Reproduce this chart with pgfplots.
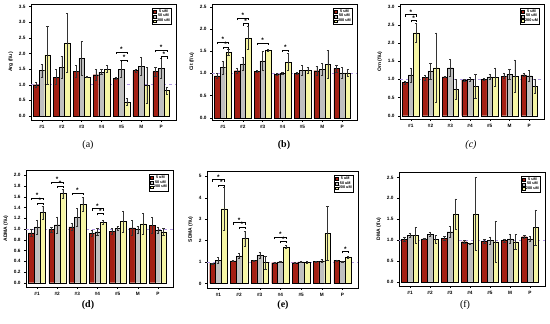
\documentclass[border=0pt]{standalone}
\usepackage{fontspec}
\setmainfont{Liberation Serif}
\setsansfont{Liberation Sans}
\usepackage{pgfplots}
\usepackage{pgfplotstable}
\pgfplotsset{compat=1.18}
\definecolor{cA}{RGB}{165,32,20}
\definecolor{cB}{RGB}{192,192,192}
\definecolor{cC}{RGB}{246,246,165}
\definecolor{refl}{RGB}{175,150,225}

% x a ea b eb c ec  (a = 5 uM, b = 50 uM, c = 200 uM)
\pgfplotstableread{
x a ea b eb c ec
0 1.00 0.08 1.45 0.21 1.95 0.92
1 1.24 0.24 1.56 0.36 2.34 0.95
2 1.42 0.19 1.84 0.54 1.25 0.02
3 1.32 0.18 1.40 0.08 1.50 0.11
4 1.21 0.03 1.50 0.27 0.45 0.11
5 1.45 0.05 1.59 0.28 0.98 0.58
6 1.42 0.14 1.52 0.32 0.81 0.12
}\tArg
\pgfplotstableread{
x a ea b eb c ec
0 0.94 0.06 1.13 0.15 1.47 0.07
1 1.06 0.05 1.21 0.15 1.80 0.25
2 1.05 0.02 1.28 0.21 1.52 0.02
3 0.98 0.02 1.00 0.02 1.26 0.19
4 1.00 0.02 1.07 0.11 1.07 0.06
5 1.06 0.10 1.09 0.13 1.20 0.31
6 1.11 0.08 1.01 0.12 1.01 0.08
}\tCit
\pgfplotstableread{
x a ea b eb c ec
0 0.92 0.04 1.12 0.20 2.28 0.25
1 1.05 0.07 1.23 0.22 1.32 0.96
2 1.07 0.02 1.32 0.23 0.73 0.27
3 0.98 0.03 1.00 0.05 0.81 0.33
4 1.00 0.03 1.07 0.06 1.06 0.26
5 1.09 0.07 1.14 0.14 1.09 0.45
6 1.12 0.04 1.10 0.14 0.81 0.19
}\tOrn
\pgfplotstableread{
x a ea b eb c ec
0 0.93 0.06 1.04 0.13 1.31 0.12
1 0.99 0.04 1.08 0.15 1.66 0.08
2 1.04 0.07 1.22 0.16 1.46 0.13
3 0.92 0.06 0.95 0.06 1.13 0.04
4 0.96 0.05 1.01 0.04 1.14 0.20
5 1.02 0.14 0.99 0.06 1.10 0.19
6 1.07 0.15 0.98 0.06 0.95 0.06
}\tADMA
\pgfplotstableread{
x a ea b eb c ec
0 0.94 0.03 1.09 0.13 3.49 1.01
1 1.06 0.02 1.29 0.11 2.10 0.34
2 1.08 0.02 1.32 0.12 0.99 0.30
3 0.97 0.02 1.02 0.03 1.71 0.06
4 0.97 0.02 1.02 0.03 1.00 0.06
5 1.03 0.02 1.06 0.08 2.34 1.26
6 1.08 0.03 1.03 0.03 1.24 0.05
}\tSDMA
\pgfplotstableread{
x a ea b eb c ec
0 1.02 0.04 1.12 0.05 1.12 0.19
1 1.03 0.02 1.14 0.04 1.02 0.09
2 1.04 0.05 1.20 0.13 1.63 0.36
3 0.96 0.04 0.92 0.01 1.63 0.87
4 0.97 0.04 0.99 0.09 0.96 0.50
5 0.99 0.04 1.03 0.11 0.96 0.18
6 1.08 0.03 1.03 0.06 1.30 0.42
}\tDMA

\pgfplotsset{
  panel/.style={
    scale only axis, anchor=south west,
    ybar, bar width=0.28,
    xmin=-0.55, xmax=6.75,
    xtick={0,...,6}, xticklabels={\#1,\#2,\#3,\#4,\#5,M,P},
    tick label style={font=\sffamily\bfseries\fontsize{4.7}{5}\selectfont},
    /pgf/number format/assume math mode=true,
    yticklabel style={/pgf/number format/.cd, fixed, fixed zerofill, precision=1},
    ylabel style={font=\sffamily\bfseries\fontsize{5}{6}\selectfont, yshift=-1pt},
    tick align=outside, tick pos=left, major tick length=2pt,
    axis line style={line width=0.4pt},
    every tick/.style={black, line width=0.3pt},
    legend style={at={(0.97,0.965)}, anchor=north east,
      font=\sffamily\bfseries\fontsize{3.8}{4}\selectfont,
      draw=black, line width=0.3pt, inner sep=0.8pt,
      row sep=-1.2pt, nodes={inner sep=0.8pt}},
    legend image code/.code={\draw[#1, line width=0.25pt] (0pt,-1.3pt) rectangle (2.8pt,1.3pt);},
  },
  bA/.style={fill=cA, draw=black, line width=0.25pt, bar shift=-0.28, eb},
  bB/.style={fill=cB, draw=black, line width=0.25pt, bar shift=0, eb},
  bC/.style={fill=cC, draw=black, line width=0.25pt, bar shift=0.28, eb},
  eb/.style={error bars/.cd, y dir=both, y explicit,
    error bar style={line width=0.35pt, black!80},
    error mark options={rotate=90, mark size=1.1pt, line width=0.35pt, black!80}},
}
\newcommand\sig[3]{\draw[line width=0.3pt, black] ([yshift=-2pt]axis cs:#1,#3) -- (axis cs:#1,#3) -- node[above, inner sep=0.2pt, font=\sffamily\bfseries\fontsize{6.5}{6}\selectfont]{*} (axis cs:#2,#3) -- ([yshift=-2pt]axis cs:#2,#3);}
\newcommand\bars[1]{%
  \addplot[refl, dashed, line width=0.4pt, sharp plot, forget plot] coordinates {(-0.55,1) (6.75,1)};
  \addplot[bA] table[x=x, y=a, y error=ea] #1;
  \addplot[bB] table[x=x, y=b, y error=eb] #1;
  \addplot[bC] table[x=x, y=c, y error=ec] #1;
  \legend{5 uM, 50 uM, 200 uM}}

\begin{document}
\begin{tikzpicture}
\useasboundingbox (0,0) rectangle (550pt,324pt);

% (a)
\begin{axis}[panel, at={(31pt,204pt)}, width=145pt, height=116pt,
  ymin=-0.13, ymax=3.58, ytick={0,0.5,...,3.5}, ylabel={Arg (f/u)}]
\bars{\tArg}
\sig{3.72}{4.28}{2.05}
\sig{4}{4.28}{1.80}
\sig{5.72}{6.28}{2.10}
\sig{6}{6.28}{1.90}
\end{axis}

% (b)
\begin{axis}[panel, at={(212pt,204pt)}, width=145pt, height=116pt,
  ymin=-0.05, ymax=2.56, ytick={0,0.5,...,2.5}, ylabel={Cit (f/u)}]
\bars{\tCit}
\sig{-0.28}{0.28}{1.70}
\sig{0}{0.28}{1.60}
\sig{0.72}{1.28}{2.24}
\sig{1}{1.28}{2.12}
\sig{1.72}{2.28}{1.69}
\sig{3}{3.28}{1.52}
\end{axis}

% (c)
\begin{axis}[panel, at={(400pt,205pt)}, width=144pt, height=115pt,
  ymin=-0.09, ymax=3.07, ytick={0,0.5,...,3.0}, ylabel={Orn (f/u)}]
\bars{\tOrn}
\sig{-0.28}{0.28}{2.78}
\sig{0}{0.28}{2.62}
\end{axis}

% (d)
\begin{axis}[panel, at={(26pt,37pt)}, width=147pt, height=117pt,
  ymin=-0.08, ymax=2.1, ytick={0,0.2,...,2.01}, ylabel={ADMA (f/u)}]
\bars{\tADMA}
\sig{-0.28}{0.28}{1.58}
\sig{0}{0.28}{1.49}
\sig{0.72}{1.28}{1.88}
\sig{1}{1.28}{1.80}
\sig{1.72}{2.28}{1.67}
\sig{2.72}{3.28}{1.38}
\sig{3}{3.28}{1.29}
\end{axis}

% (e)
\begin{axis}[panel, at={(207pt,36pt)}, width=151pt, height=117pt,
  ymin=-0.21, ymax=5.25, ytick={0,1,...,5}, ylabel={SDMA (f/u)},
  yticklabel style={/pgf/number format/.cd, fixed, precision=0}]
\bars{\tSDMA}
\sig{-0.28}{0.28}{4.85}
\sig{0}{0.28}{4.60}
\sig{0.72}{1.28}{2.84}
\sig{1}{1.28}{2.63}
\sig{2.72}{3.28}{2.16}
\sig{3}{3.28}{1.96}
\sig{6}{6.28}{1.50}
\end{axis}

% (f)
\begin{axis}[panel, at={(399pt,38pt)}, width=146pt, height=114pt,
  ymin=-0.1, ymax=2.63, ytick={0,0.5,...,2.5}, ylabel={DMA (f/u)}]
\bars{\tDMA}
\end{axis}

\node[font=\fontsize{10}{12}\selectfont] at (88pt,179pt) {(a)};
\node[font=\bfseries\fontsize{10}{12}\selectfont] at (284pt,179pt) {(b)};
\node[font=\itshape\fontsize{10}{12}\selectfont] at (471pt,179pt) {(c)};
\node[font=\bfseries\fontsize{10}{12}\selectfont] at (88pt,19pt) {(d)};
\node[font=\bfseries\fontsize{10}{12}\selectfont] at (283pt,19pt) {(e)};
\node[font=\fontsize{10}{12}\selectfont] at (465pt,19pt) {(f)};
\end{tikzpicture}
\end{document}
